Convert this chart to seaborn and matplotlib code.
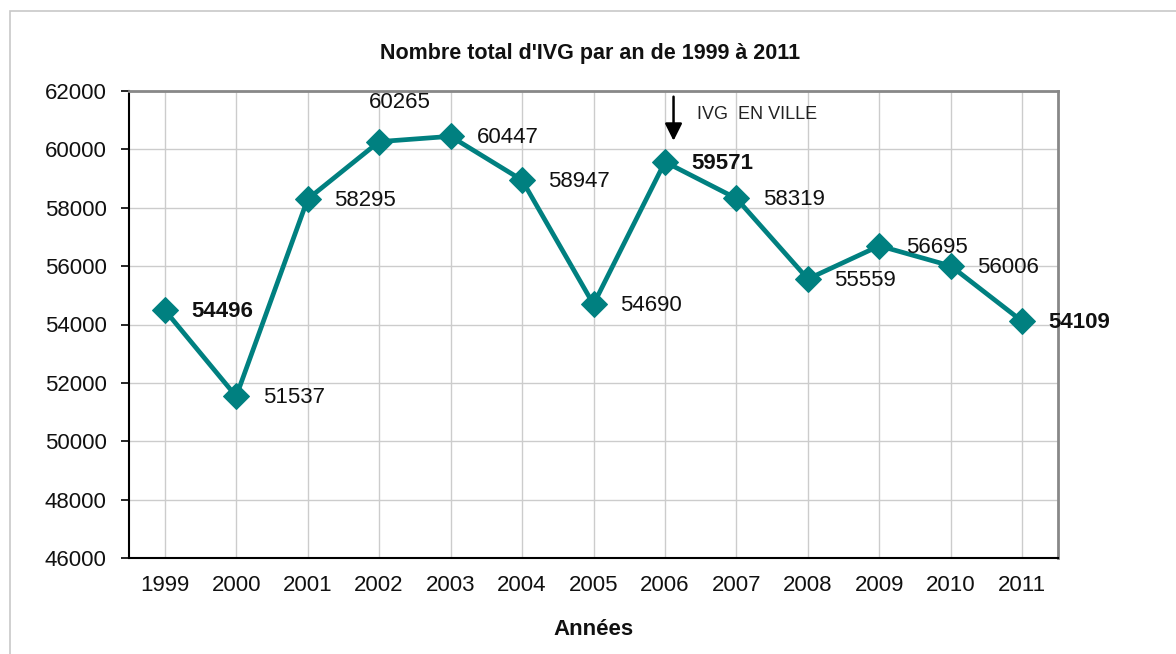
import numpy as np
import pandas as pd
import seaborn as sns
import matplotlib.ticker as mtick
from matplotlib import pyplot as plt
from matplotlib.patches import Rectangle

# nombre d'IVG par an
years = [1999, 2000, 2001, 2002, 2003, 2004, 2005, 2006, 2007, 2008, 2009, 2010, 2011]
ivg = [54496, 51537, 58295, 60265, 60447, 58947, 54690, 59571, 58319, 55559, 56695, 56006, 54109]
bold_years = [1999, 2006, 2011]

df = pd.DataFrame({'annee': years, 'ivg': ivg})

sns.set_theme(style="white")
plt.rcParams['font.family'] = ['Liberation Sans', 'DejaVu Sans']

fig = plt.figure(figsize=(11.76, 6.54), dpi=100)
ax = fig.add_axes([129 / 1176, 1 - 558 / 654, (1058 - 129) / 1176, (558 - 91) / 654])

# cadre exterieur
fig.patches.append(Rectangle((10 / 1176, -0.02), 1.1, 1 - 11 / 654 + 0.02,
                             transform=fig.transFigure, fill=False,
                             edgecolor='#c8c8c8', linewidth=1.2))

teal = '#008080'
sns.lineplot(data=df, x='annee', y='ivg', ax=ax, color=teal, linewidth=3.4,
             marker='D', markersize=13.5, markeredgecolor=teal, zorder=3)

fs = 16
ax.set_xlim(1998.5, 2011.5)
ax.set_ylim(46000, 62000)
ax.set_xticks(years)
ax.set_xticklabels([str(y) for y in years], fontsize=fs, color='#111111')
ax.xaxis.set_minor_locator(mtick.FixedLocator(np.arange(1998.5, 2012, 1)))
ax.tick_params(axis='x', which='major', length=0, pad=12)
ax.tick_params(axis='x', which='minor', length=6, width=1.2, direction='out', color='black')
ax.set_yticks(np.arange(46000, 62001, 2000))
ax.tick_params(axis='y', labelsize=fs, length=6, width=1.2, direction='out', color='black',
               labelcolor='#111111', pad=10)
ax.tick_params(axis='both', bottom=True, left=True)

ax.grid(True, which='major', color='#cccccc', linewidth=1)
ax.set_axisbelow(True)

for s in ['top', 'right']:
    ax.spines[s].set_color('#888888')
    ax.spines[s].set_linewidth(2)
for s in ['left', 'bottom']:
    ax.spines[s].set_color('black')
    ax.spines[s].set_linewidth(1.5)

# etiquettes des valeurs
for y, v in zip(years, ivg):
    weight = 'bold' if y in bold_years else 'normal'
    if y == 2002:
        ax.annotate(str(v), (y, v), xytext=(15, 28), textcoords='offset points',
                    ha='center', va='center', fontsize=fs, fontweight=weight, color='#111111')
    else:
        ax.annotate(str(v), (y, v), xytext=(19, -1), textcoords='offset points',
                    ha='left', va='center', fontsize=fs, fontweight=weight, color='#111111')

# fleche IVG en ville
ax.annotate('', xy=(2006.12, 60200), xytext=(2006.12, 61900),
            arrowprops=dict(arrowstyle='-|>', color='black', lw=1.8, mutation_scale=26))
ax.text(2006.45, 61200, 'IVG  EN VILLE', fontsize=13, ha='left', va='center', color='#222222')

ax.set_xlabel('Années', fontsize=fs, fontweight='bold', labelpad=17, color='#111111')
ax.set_ylabel('')
fig.text(0.502, 1 - 53 / 654, "Nombre total d'IVG par an de 1999 à 2011", ha='center', va='center',
         fontsize=15.5, fontweight='bold', color='#111111')

plt.savefig('out.png', dpi=100)
plt.close()
